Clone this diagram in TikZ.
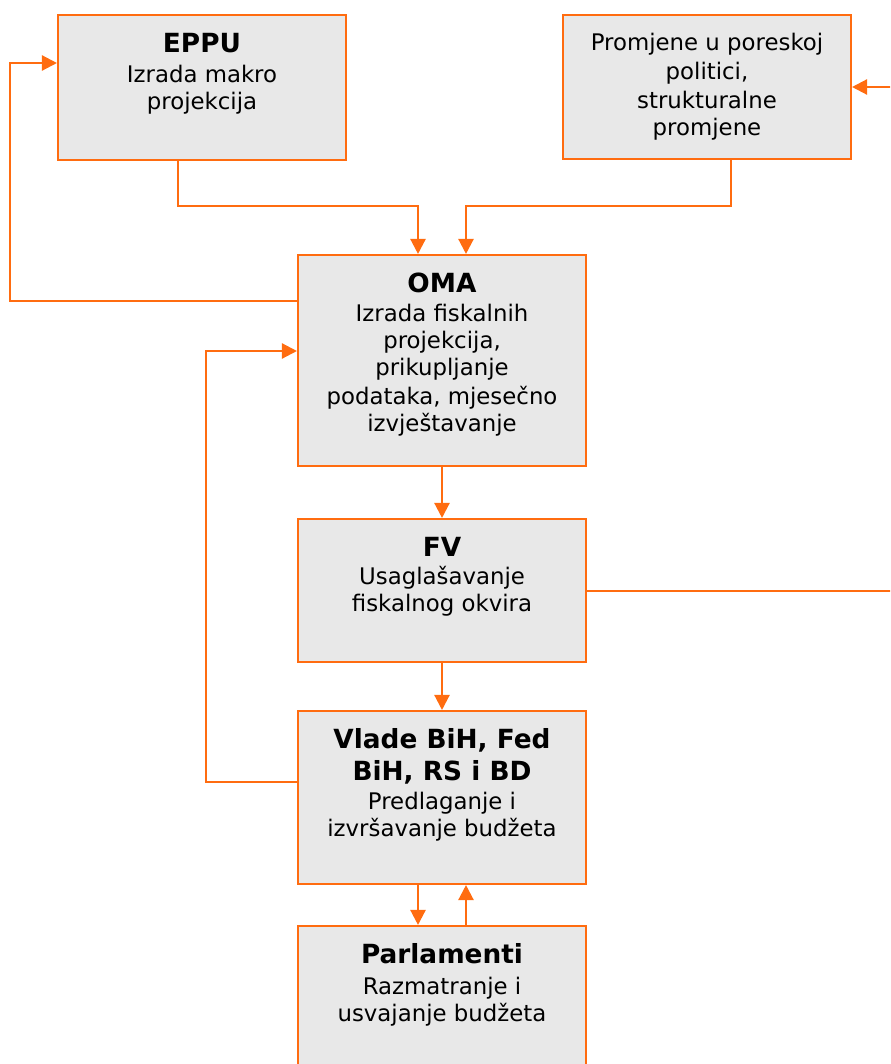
\documentclass[tikz,border=0pt]{standalone}
\usepackage{fontspec}
\setmainfont{DejaVu Sans}
\usepackage{xcolor}
\usepackage{tikz}
\usetikzlibrary{positioning,arrows.meta}

\definecolor{flowline}{RGB}{255,108,16}
\definecolor{boxfill}{RGB}{232,232,232}
\newcommand{\boxtitle}[1]{{\fontsize{15}{17.6}\selectfont\bfseries #1}}

\begin{document}
\begin{tikzpicture}[x=0.02cm,y=-0.02cm,
    box/.style={draw=flowline, line width=1.2pt, fill=boxfill, minimum width=5.76cm},
    txt/.style={align=center, inner sep=0pt, font=\fontsize{13}{15.4}\selectfont},
    link/.style={draw=flowline, line width=1.3pt, -{Triangle[length=0.3cm,width=0.3cm]}},
    plain/.style={draw=flowline, line width=1.3pt}]
    \useasboundingbox (0,0) rectangle (890,1064);
    \clip (0,0) rectangle (890,1064);

    % boxes
    \node [box, minimum height=2.9cm]  (eppu)     at (202,87.5)  {};
    \node [box, minimum height=2.88cm] (promjene) at (707,87)    {};
    \node [box, minimum height=4.22cm] (oma)      at (442,360.5) {};
    \node [box, minimum height=2.86cm] (fv)       at (442,590.5) {};
    \node [box, minimum height=3.46cm] (vlade)    at (442,797.5) {};
    \node [box, minimum height=3cm]    (parl)     at (442,1001)  {};

    % texts
    \node [txt, below=0.37cm of eppu.north] (eppu-t)
      {\boxtitle{EPPU}\\[2pt] Izrada makro\\ projekcija};
    \node [txt, below=0.38cm of promjene.north] (promjene-t)
      {Promjene u poreskoj\\[1pt] politici,\\[1pt] strukturalne\\ promjene};
    \node [txt, below=0.37cm of oma.north] (oma-t)
      {\boxtitle{OMA}\\[1pt] Izrada fiskalnih\\ projekcija,\\ prikupljanje\\[1pt] podataka, mjesečno\\ izvještavanje};
    \node [txt, below=0.37cm of fv.north] (fv-t)
      {\boxtitle{FV}\\[1pt] Usaglašavanje\\ fiskalnog okvira};
    \node [txt, below=0.36cm of vlade.north] (vlade-t)
      {\boxtitle{Vlade BiH, Fed}\\[3pt] \boxtitle{BiH, RS i BD}\\[1pt] Predlaganje i\\ izvršavanje budžeta};
    \node [txt, below=0.37cm of parl.north] (parl-t)
      {\boxtitle{Parlamenti}\\[2pt] Razmatranje i\\ usvajanje budžeta};

    % connectors
    \coordinate (omaL) at ([xshift=-0.48cm]oma.north);
    \coordinate (omaR) at ([xshift=0.48cm]oma.north);
    \draw [link] ([xshift=-0.48cm]eppu.south) |- ([yshift=0.96cm]omaL) -- (omaL);
    \draw [link] ([xshift=0.48cm]promjene.south) |- ([yshift=0.96cm]omaR) -- (omaR);
    \draw [link] ([yshift=1.19cm]oma.west) -- ++(-287,0) |- ([yshift=0.49cm]eppu.west);
    \draw [link] ([yshift=0.31cm]vlade.west) -- ++(-91,0) |- ([yshift=0.19cm]oma.west);
    \draw [link] (oma.south) -- (fv.north);
    \draw [link] (fv.south) -- (vlade.north);
    \draw [link] ([xshift=-0.48cm]vlade.south) -- ([xshift=-0.48cm]parl.north);
    \draw [link] ([xshift=0.48cm]parl.north) -- ([xshift=0.48cm]vlade.south);
    \draw [link] ([yshift=-0.01cm]fv.east) -- ++(310,0) |- (promjene.east);
\end{tikzpicture}
\end{document}
